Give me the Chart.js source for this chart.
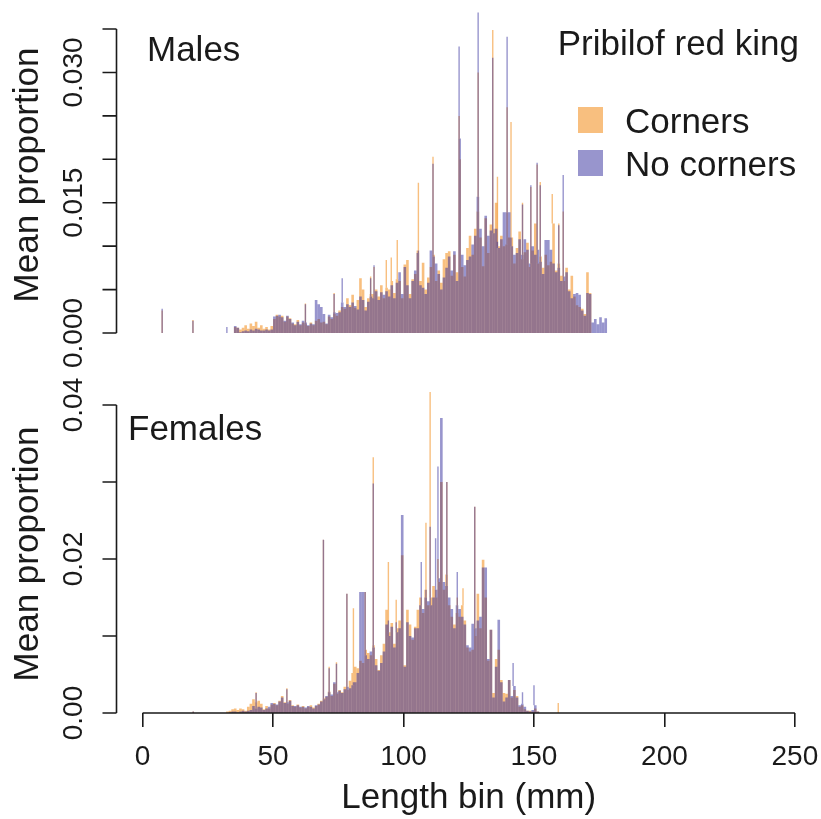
<!DOCTYPE html>
<html>
<head>
<meta charset="utf-8">
<script src="https://cdn.jsdelivr.net/npm/chart.js@4.4.1/dist/chart.umd.min.js"></script>
<style>
  body { margin: 0; background: #fff; }
  #wrap { position: relative; width: 821px; height: 819px; }
  #males { position: absolute; left: 0; top: 0; }
  #females { position: absolute; left: 0; top: 372px; }
</style>
</head>
<body>
<div id="wrap">
  <canvas id="males" width="821" height="372"></canvas>
  <canvas id="females" width="821" height="447"></canvas>
</div>
<script>
// males: 1 mm bins, first bin starts at 33 mm
const maleStart = 33;
const maleCorners = [
  0, 0, 0.0007, 0.0006, 0.0004, 0.0006, 0.0009, 0.0005, 0.0011, 0.0008,
  0.0013, 0.0006, 0.0009, 0.0005, 0.0007, 0.0004, 0.0008, 0.0016, 0.0021, 0.0019,
  0.0020, 0.0013, 0.0019, 0.0017, 0.0011, 0.0010, 0.0015, 0.0009, 0.0012, 0.0010,
  0.0008, 0.0012, 0.0009, 0.0014, 0.0016, 0.0012, 0.0013, 0.0010, 0.0019, 0.0016,
  0.0022, 0.0020, 0.0026, 0.0030, 0.0028, 0.0040, 0.0032, 0.0044, 0.0029, 0.0038,
  0.0063, 0.0050, 0.0030, 0.0040, 0.0045, 0.0045, 0.0050, 0.0042, 0.0055, 0.0040,
  0.0052, 0.0050, 0.0060, 0.0046, 0.0062, 0.0060, 0.0040, 0.0079, 0.0084, 0.0045,
  0.0062, 0.0068, 0.0095, 0.0060, 0.0081, 0.0050, 0.0064, 0.0076, 0.0090, 0.0060,
  0.0072, 0.0058, 0.0085, 0.0092, 0.0094, 0.0066, 0.0090, 0.0070, 0.0200, 0.0076,
  0.0065, 0.0098, 0.0112, 0.0090, 0.0120, 0.0140, 0.0110, 0.0077, 0.0132, 0.0092,
  0.0125, 0.0120, 0.0150, 0.0100, 0.0112, 0.0100, 0.0102, 0.0110, 0.0110, 0.0080,
  0.0098, 0.0117, 0.0085, 0.0093, 0.0104, 0.0076, 0.0095, 0.0126, 0.0080, 0.0088,
  0.0075, 0.0090, 0.0078, 0.0082, 0.0126, 0.0072, 0.0080, 0.0066, 0.0060, 0.0075,
  0.0050, 0.0066, 0.0042, 0.0032, 0.0030, 0.0028, 0.0022, 0.0070, 0.0046, 0,
  0, 0, 0, 0, 0
];
const maleNoCorners = [
  0, 0, 0.0008, 0.0006, 0.0001, 0.0002, 0.0003, 0.0002, 0.0004, 0.0003,
  0.0005, 0.0004, 0.0003, 0.0003, 0.0004, 0.0003, 0.0004, 0.0019, 0.0020, 0.0021,
  0.0018, 0.0014, 0.0020, 0.0016, 0.0012, 0.0009, 0.0013, 0.0010, 0.0014, 0.0012,
  0.0009, 0.0011, 0.0010, 0.0038, 0.0033, 0.0030, 0.0022, 0.0011, 0.0021, 0.0018,
  0.0024, 0.0023, 0.0024, 0.0035, 0.0030, 0.0033, 0.0030, 0.0035, 0.0031, 0.0027,
  0.0042, 0.0038, 0.0026, 0.0036, 0.0042, 0.0040, 0.0048, 0.0038, 0.0047, 0.0044,
  0.0048, 0.0042, 0.0055, 0.0040, 0.0058, 0.0070, 0.0045, 0.0076, 0.0055, 0.0040,
  0.0060, 0.0072, 0.0092, 0.0055, 0.0052, 0.0045, 0.0058, 0.0095, 0.0088, 0.0080,
  0.0068, 0.0050, 0.0064, 0.0075, 0.0088, 0.0072, 0.0094, 0.0060, 0.0224, 0.0090,
  0.0078, 0.0084, 0.0088, 0.0102, 0.0112, 0.0157, 0.0120, 0.0100, 0.0135, 0.0112,
  0.0118, 0.0115, 0.0120, 0.0098, 0.0108, 0.0139, 0.0139, 0.0139, 0.0100, 0.0090,
  0.0092, 0.0108, 0.0090, 0.0108, 0.0096, 0.0080, 0.0100, 0.0090, 0.0096, 0.0082,
  0.0068, 0.0107, 0.0107, 0.0096, 0.0080, 0.0070, 0.0075, 0.0060, 0.0065, 0.0070,
  0.0048, 0.0040, 0.0045, 0.0046, 0.0044, 0.0026, 0.0020, 0.0046, 0.0045, 0.0012,
  0.0016, 0.0010, 0.0018, 0.0012, 0.0017
];
// narrow spikes rising above the 1 mm bins
const maleSpikeLen = [7.5, 19.3, 32.3, 62.4, 73.4, 76.5, 87.4, 88.7, 93.4, 95.3,
  97.6, 105.7, 111.3, 121.3, 128.6, 134.2, 136.0, 139.7, 141.2, 145.6,
  148.8, 151.2, 152.4, 157.0, 159.5, 161.2];
const maleSpikeCorners = [0.0026, 0.0015, 0, 0.0034, 0.0046, 0, 0.0065, 0.0076, 0.0084, 0.0087,
  0.0107, 0.0173, 0.0203, 0.0250, 0.0300, 0.0349, 0.0180, 0.0260, 0.0243, 0.0150,
  0.0168, 0.0194, 0.0174, 0.0160, 0.0126, 0.0140];
const maleSpikeNoCorners = [0.0028, 0.0014, 0.0007, 0.0033, 0.0045, 0.0063, 0.0063, 0.0078, 0, 0,
  0, 0.0095, 0.0195, 0.0330, 0.0369, 0.0317, 0.0105, 0.0341, 0.0110, 0.0148,
  0.0170, 0.0196, 0.0170, 0, 0.0124, 0.0182];

// females: 1 mm bins, first bin starts at 30 mm
const femaleStart = 30;
const femaleCorners = [
  0, 0, 0.0002, 0.0003, 0.0005, 0.0006, 0.0004, 0.0006, 0.0005, 0.0003,
  0.0008, 0.0012, 0.0018, 0.0014, 0.0016, 0.0012, 0.0005, 0.0009, 0.0006, 0.0011,
  0.0013, 0.0010, 0.0016, 0.0022, 0.0014, 0.0012, 0.0017, 0.0010, 0.0008, 0.0011,
  0.0007, 0.0009, 0.0006, 0.0008, 0.0010, 0.0007, 0.0009, 0.0012, 0.0016, 0.0019,
  0.0021, 0.0028, 0.0022, 0.0038, 0.0025, 0.0030, 0.0027, 0.0034, 0.0030, 0.0042,
  0.0052, 0.0060, 0.0058, 0.0068, 0.0065, 0.0082, 0.0078, 0.0075, 0.0088, 0.0070,
  0.0056, 0.0075, 0.0090, 0.0134, 0.0105, 0.0117, 0.0090, 0.0110, 0.0120, 0.0205,
  0.0062, 0.0134, 0.0115, 0.0095, 0.0112, 0.0134, 0.0150, 0.0130, 0.0160, 0.0140,
  0.0150, 0.0165, 0.0150, 0.0170, 0.0300, 0.0160, 0.0180, 0.0140, 0.0125, 0.0115,
  0.0130, 0.0125, 0.0140, 0.0120, 0.0085, 0.0080, 0.0082, 0.0100, 0.0155, 0.0110,
  0.0199, 0.0150, 0.0068, 0.0108, 0.0026, 0.0070, 0.0082, 0.0043, 0.0026, 0.0025,
  0.0043, 0.0020, 0.0030, 0.0022, 0.0008, 0.0010, 0.0005, 0.0003, 0.0003, 0.0002,
  0.0006, 0.0002
];
const femaleNoCorners = [
  0, 0, 0, 0.0001, 0.0002, 0.0002, 0.0001, 0.0002, 0.0003, 0.0002,
  0.0003, 0.0004, 0.0009, 0.0006, 0.0008, 0.0007, 0.0004, 0.0006, 0.0008, 0.0013,
  0.0012, 0.0011, 0.0015, 0.0020, 0.0013, 0.0014, 0.0016, 0.0009, 0.0009, 0.0010,
  0.0008, 0.0008, 0.0007, 0.0009, 0.0008, 0.0006, 0.0010, 0.0011, 0.0015, 0.0018,
  0.0022, 0.0027, 0.0024, 0.0040, 0.0027, 0.0029, 0.0026, 0.0031, 0.0034, 0.0032,
  0.0036, 0.0040, 0.0052, 0.0157, 0.0157, 0.0075, 0.0070, 0.0080, 0.0085, 0.0062,
  0.0055, 0.0065, 0.0080, 0.0115, 0.0100, 0.0112, 0.0085, 0.0105, 0.0110, 0.0257,
  0.0060, 0.0118, 0.0100, 0.0098, 0.0110, 0.0110, 0.0140, 0.0135, 0.0150, 0.0145,
  0.0140, 0.0150, 0.0160, 0.0175, 0.0383, 0.0170, 0.0165, 0.0150, 0.0135, 0.0110,
  0.0140, 0.0135, 0.0125, 0.0115, 0.0088, 0.0085, 0.0116, 0.0110, 0.0120, 0.0125,
  0.0189, 0.0189, 0.0070, 0.0108, 0.0020, 0.0060, 0.0121, 0.0040, 0.0015, 0.0020,
  0.0043, 0.0022, 0.0035, 0.0020, 0.0010, 0.0012, 0.0008, 0.0003, 0.0002, 0.0004,
  0.0010, 0.0002
];
const femaleSpikeLen = [19.4, 43.5, 55.3, 69.3, 71.5, 74.3, 78.3, 80.8, 85.3, 88.4,
  94.2, 97.2, 106.8, 108.6, 110.2, 112.3, 113.2, 116.6, 120.6, 122.8,
  127.3, 142.0, 145.6, 150.0, 159.3];
const femaleSpikeCorners = [0.0002, 0.0027, 0.0032, 0.0225, 0.0060, 0.0066, 0.0155, 0.0136, 0.0157, 0.0332,
  0.0196, 0.0147, 0.0150, 0.0247, 0.0417, 0.0160, 0.0200, 0.0300, 0.0150, 0.0162,
  0.0268, 0.0030, 0, 0, 0.0013];
const femaleSpikeNoCorners = [0.0002, 0.0026, 0.0031, 0.0225, 0.0058, 0.0064, 0.0155, 0.0040, 0.0157, 0.0298,
  0.0120, 0.0118, 0.0196, 0.0160, 0.0242, 0.0227, 0.0320, 0.0300, 0.0183, 0.0125,
  0.0268, 0.0065, 0.0027, 0.0036, 0];

// axis ticks
const xTicks = [0, 50, 100, 150, 200, 250];
const maleYTicks = [0, 0.005, 0.010, 0.015, 0.020, 0.025, 0.030, 0.035];
const maleYLabels = ['0.000', '', '', '0.015', '', '', '0.030', ''];
const femaleYTicks = [0, 0.01, 0.02, 0.03, 0.04];
const femaleYLabels = ['0.00', '', '0.02', '', '0.04'];

const orange = 'rgba(242, 128, 0, 0.5)';
const blue = 'rgba(50, 44, 155, 0.5)';
const ink = '#1a1a1a';
const fontFamily = '"Liberation Sans", Arial, sans-serif';

function bulkPoints(start, vals) {
  return vals.map((v, i) => ({ x: start + i + 0.5, y: v }));
}

// spikes are floating bars from the top of their own bin up to the spike value
function spikePoints(start, bulk, lens, tops) {
  let pts = [];
  lens.forEach((len, i) => {
    let base = bulk[Math.floor(len) - start] || 0;
    if (tops[i] > base) pts.push({ x: len, y: [base, tops[i]] });
  });
  return pts;
}

function panelDatasets(start, corners, noCorners, spikeLen, spikeC, spikeN) {
  const common = { grouped: false, inflateAmount: 0, borderWidth: 0 };
  return [
    { ...common, data: bulkPoints(start, noCorners), backgroundColor: blue, barThickness: 2.61, order: 0 },
    { ...common, data: spikePoints(start, noCorners, spikeLen, spikeN), backgroundColor: blue, barThickness: 1.4, order: 0 },
    { ...common, data: bulkPoints(start, corners), backgroundColor: orange, barThickness: 2.61, order: 1 },
    { ...common, data: spikePoints(start, corners, spikeLen, spikeC), backgroundColor: orange, barThickness: 1.4, order: 1 }
  ];
}

function rotatedText(ctx, text, x, y) {
  ctx.save();
  ctx.translate(x, y);
  ctx.rotate(-Math.PI / 2);
  ctx.fillText(text, 0, 0);
  ctx.restore();
}

// draws the R-style y axis, axis titles and the panel label
function panelPlugin(p) {
  return {
    id: 'panel_' + p.name,
    afterDraw(chart) {
      const { ctx, chartArea, scales } = chart;
      const y = scales.y;
      const ax = chartArea.left;
      ctx.save();
      ctx.strokeStyle = ink;
      ctx.fillStyle = ink;
      ctx.lineWidth = 1.6;
      ctx.beginPath();
      ctx.moveTo(ax, y.getPixelForValue(p.ticks[0]));
      ctx.lineTo(ax, y.getPixelForValue(p.ticks[p.ticks.length - 1]));
      p.ticks.forEach(v => {
        ctx.moveTo(ax, y.getPixelForValue(v));
        ctx.lineTo(ax - 14, y.getPixelForValue(v));
      });
      if (p.xAxis) {
        ctx.moveTo(scales.x.getPixelForValue(xTicks[0]), chartArea.bottom);
        ctx.lineTo(scales.x.getPixelForValue(xTicks[xTicks.length - 1]), chartArea.bottom);
      }
      ctx.stroke();

      ctx.textAlign = 'center';
      ctx.textBaseline = 'alphabetic';
      ctx.font = '28px ' + fontFamily;
      p.ticks.forEach((v, i) => {
        if (p.labels[i]) rotatedText(ctx, p.labels[i], ax - 35, y.getPixelForValue(v));
      });
      ctx.font = '35px ' + fontFamily;
      rotatedText(ctx, 'Mean proportion', 38, p.titleY);

      ctx.textAlign = 'left';
      ctx.fillText(p.name, p.nameX, p.nameY);

      if (p.legend) {
        ctx.textAlign = 'right';
        ctx.fillText('Pribilof red king', 799, 55);
        ctx.textAlign = 'left';
        ctx.fillStyle = orange;
        ctx.fillRect(578, 107, 25, 26);
        ctx.fillStyle = blue;
        ctx.fillRect(578, 150, 25, 26);
        ctx.fillStyle = ink;
        ctx.fillText('Corners', 625, 133);
        ctx.fillText('No corners', 625, 176);
      }
      ctx.restore();
    }
  };
}

function makePanel(id, datasets, yMax, padding, xOptions, plugin) {
  return new Chart(document.getElementById(id), {
    type: 'bar',
    data: { datasets: datasets },
    options: {
      responsive: false,
      animation: false,
      devicePixelRatio: 1,
      events: [],
      layout: { padding: padding },
      plugins: { legend: { display: false }, tooltip: { enabled: false } },
      scales: {
        x: xOptions,
        y: { type: 'linear', min: 0, max: yMax, display: false }
      }
    },
    plugins: [plugin]
  });
}

makePanel('males',
  panelDatasets(maleStart, maleCorners, maleNoCorners, maleSpikeLen, maleSpikeCorners, maleSpikeNoCorners),
  0.038,
  { left: 116.5, right: 0, top: 3, bottom: 39 },
  { type: 'linear', min: -10, max: 260, offset: false, display: false },
  panelPlugin({ name: 'Males', nameX: 147, nameY: 61, ticks: maleYTicks, labels: maleYLabels, titleY: 175, legend: true, xAxis: false })
);

makePanel('females',
  panelDatasets(femaleStart, femaleCorners, femaleNoCorners, femaleSpikeLen, femaleSpikeCorners, femaleSpikeNoCorners),
  0.044,
  { left: 116.5, right: 0, top: 2.2, bottom: 0 },
  {
    type: 'linear', min: -10, max: 260, offset: false,
    afterBuildTicks: s => { s.ticks = xTicks.map(v => ({ value: v })); },
    afterFit: s => { s.height = 106; s.paddingLeft = 0; s.paddingRight = 0; },
    grid: { display: true, offset: false, drawOnChartArea: false, drawTicks: true, tickLength: 14, color: ink, lineWidth: 1.6 },
    border: { display: false },
    ticks: { color: ink, font: { family: fontFamily, size: 28 }, padding: 13, maxRotation: 0, autoSkip: false },
    title: { display: true, text: 'Length bin (mm)', color: ink, font: { family: fontFamily, size: 35 }, padding: { top: 0, bottom: 0 } }
  },
  panelPlugin({ name: 'Females', nameX: 128, nameY: 68, ticks: femaleYTicks, labels: femaleYLabels, titleY: 182, legend: false, xAxis: true })
);
</script>
</body>
</html>
